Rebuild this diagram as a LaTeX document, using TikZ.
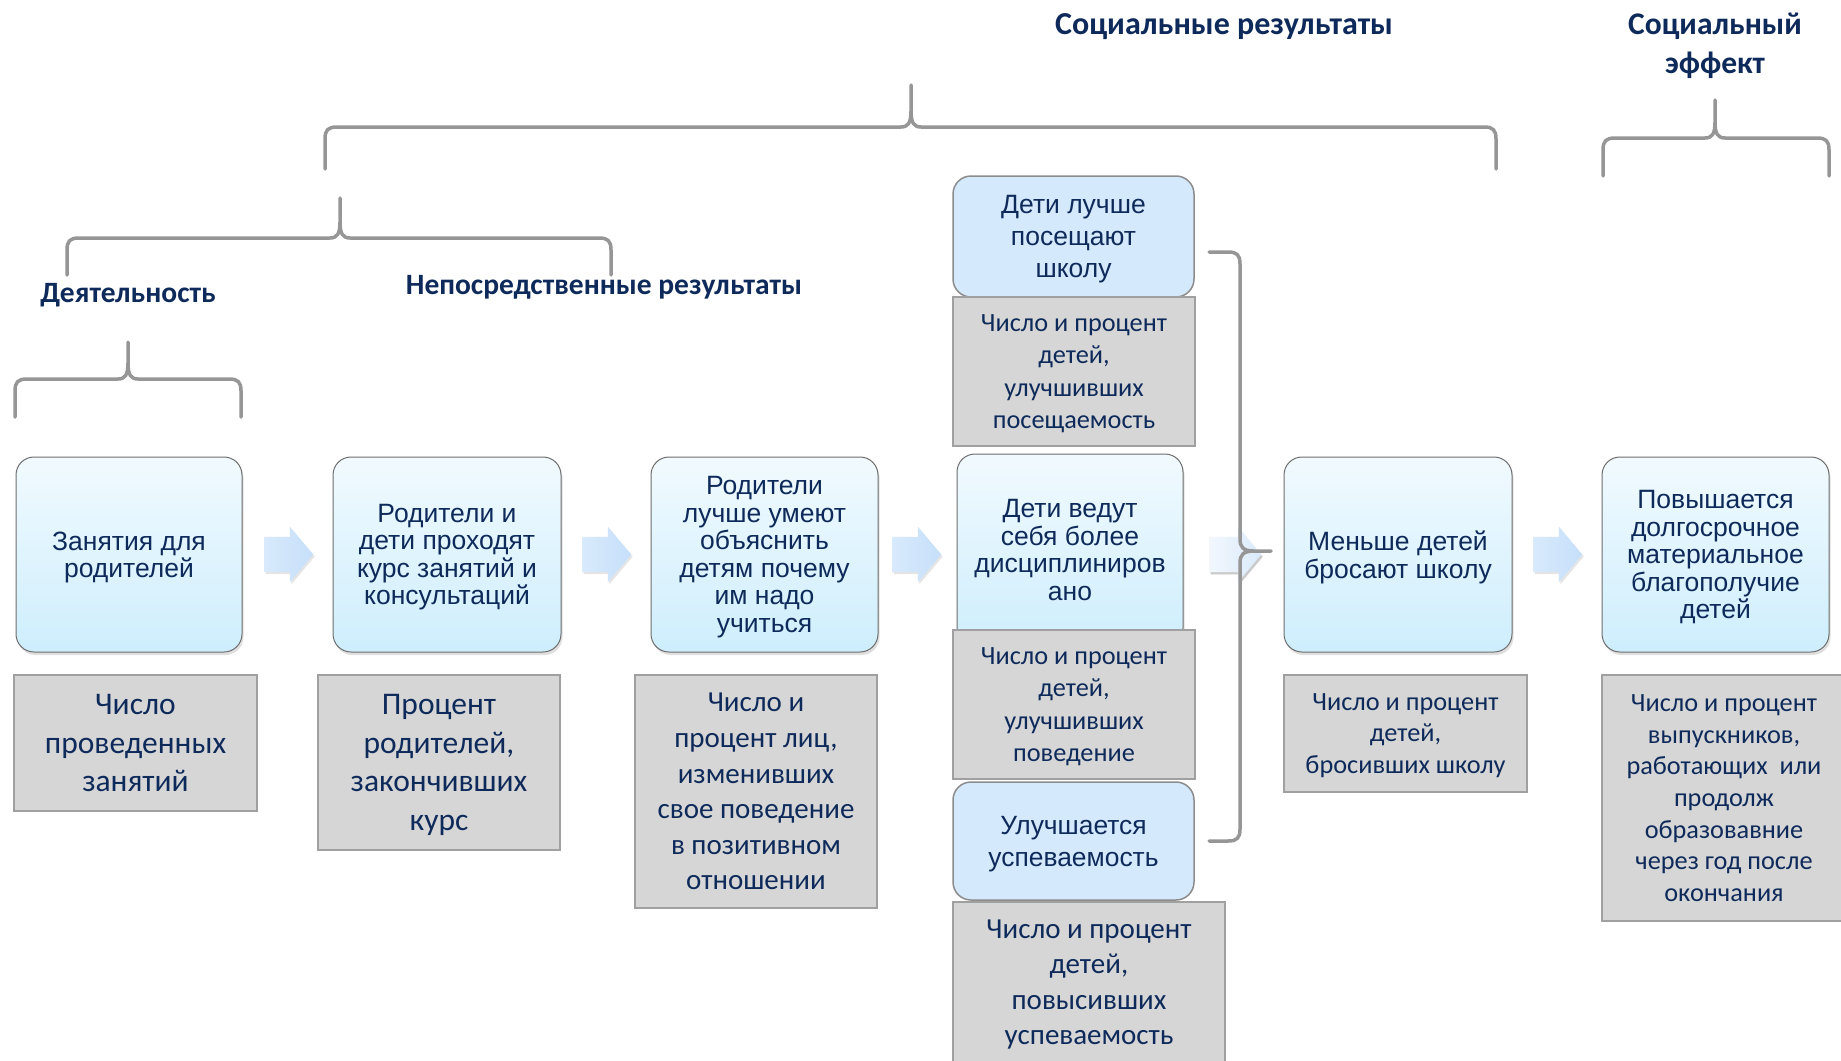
\documentclass[tikz,border=0pt]{standalone}
\usepackage{fontspec}
\setmainfont{Liberation Sans}
\newfontfamily\calfont{Carlito}
\usetikzlibrary{shapes.arrows,shadows}

\definecolor{navy}{RGB}{14,42,90}
\definecolor{boxtop}{RGB}{241,250,254}
\definecolor{boxbot}{RGB}{206,238,253}
\definecolor{boxline}{RGB}{110,110,110}
\definecolor{solidblue}{RGB}{213,233,252}
\definecolor{solidline}{RGB}{140,140,140}
\definecolor{grayfill}{RGB}{214,214,214}
\definecolor{grayline}{RGB}{160,160,160}
\definecolor{braceline}{RGB}{150,150,150}
\definecolor{arrowl}{RGB}{216,234,252}
\definecolor{arrowr}{RGB}{198,223,250}

% horizontal curly brace: left x, right x, tip x, bar y, tip top y, arm bottom y
\newcommand\hbr[6]{%
  \draw[brace] (#1,#6) -- (#1,#4+12) .. controls (#1,#4+3) and (#1+3,#4) .. (#1+12,#4)
    -- (#3-10,#4) .. controls (#3-3,#4) and (#3,#4-4) .. (#3,#4-16) -- (#3,#5)
    (#3,#4-16) .. controls (#3,#4-4) and (#3+3,#4) .. (#3+10,#4)
    -- (#2-12,#4) .. controls (#2-3,#4) and (#2,#4+3) .. (#2,#4+12) -- (#2,#6);}

\begin{document}
\begin{tikzpicture}[x=1pt,y=-1pt,
  every node/.style={inner sep=0pt, align=center, text=navy},
  brace/.style={draw=braceline, line width=3.5pt, line cap=round, line join=round},
  gradbox/.style={draw=boxline, line width=1pt, rounded corners=18pt,
    top color=boxtop, bottom color=boxbot, text depth=0pt,
    drop shadow={shadow xshift=1.5pt, shadow yshift=-3pt, opacity=0.25},
    font=\fontsize{26.5}{27.5}\selectfont},
  solidbox/.style={draw=solidline, line width=1.5pt, rounded corners=18pt,
    fill=solidblue, text depth=0pt},
  graybox/.style={draw=grayline, line width=2pt, fill=grayfill, text depth=0pt},
  gtext/.style n args={2}{font={\calfont\fontsize{#1}{#2}\selectfont}},
  heading/.style={font={\calfont\bfseries\fontsize{#1}{39}\selectfont}},
  flow/.style={single arrow, single arrow head extend=10pt, single arrow tip angle=100,
    text height=17.5pt, text depth=17.5pt, minimum height=49pt, anchor=tail,
    left color=arrowl, right color=arrowr,
    drop shadow={shadow xshift=1.5pt, shadow yshift=-2pt, opacity=0.2}},
  fadeflow/.style={flow, minimum height=52pt,
    left color={rgb,255:red,242;green,247;blue,253},
    right color={rgb,255:red,218;green,234;blue,251},
    drop shadow={shadow xshift=1.5pt, shadow yshift=-2.5pt, opacity=0.25}},
]
\useasboundingbox (0,0) rectangle (1841,1060);
\fill[white] (0,0) rectangle (1841,1060);
\clip (0,0) rectangle (1841,1060);

% headings
\node[heading=32] (hsoc) at (1224,27) {Социальные результаты};
\node[heading=31.5] (heff) at (1715,46) {Социальный\\эффект};
\node[heading=29.5] (hact) at (128,295) {Деятельность};
\node[heading=29.5] (hdir) at (604,287) {Непосредственные результаты};

% braces
\hbr{15}{241}{128}{379}{342}{417}
\hbr{67}{611}{340}{238}{198}{275}
\hbr{325}{1496}{911}{127}{85}{169}
\hbr{1603}{1829}{1715}{138}{100}{176}

% main chain of outcomes
\node[gradbox, minimum width=226pt, minimum height=195pt] (b1) at (129,554.5)
  {Занятия для\\родителей};
\node[gradbox, minimum width=228pt, minimum height=195pt] (b2) at (447,554.5)
  {Родители и\\дети проходят\\курс занятий и\\консультаций};
\node[gradbox, minimum width=227pt, minimum height=195pt] (b3) at (764.5,554.5)
  {Родители\\лучше умеют\\объяснить\\детям почему\\им надо\\учиться};
\node[gradbox, minimum width=226pt, minimum height=192pt] (b4) at (1070,550)
  {Дети ведут\\себя более\\дисциплиниров\\ано};
\node[gradbox, minimum width=228pt, minimum height=195pt] (b5) at (1398,554.5)
  {Меньше детей\\бросают школу};
\node[gradbox, minimum width=227pt, minimum height=195pt] (b6) at (1715.5,554.5)
  {Повышается\\долгосрочное\\материальное\\благополучие\\детей};

\node[solidbox, minimum width=241pt, minimum height=121pt,
  font=\fontsize{26.5}{32}\selectfont] (s1) at (1073.5,236.5)
  {Дети лучше\\посещают\\школу};
\node[solidbox, minimum width=241pt, minimum height=118pt,
  font=\fontsize{26.4}{32}\selectfont] (s2) at (1073.5,841)
  {Улучшается\\успеваемость};

% indicators
\node[graybox, gtext={31.5}{38.5}, minimum width=243pt, minimum height=136pt] (g1) at (135.5,743)
  {Число\\проведенных\\занятий};
\node[graybox, gtext={31.5}{38.5}, minimum width=242pt, minimum height=175pt] (g2) at (439,762.5)
  {Процент\\родителей,\\закончивших\\курс};
\node[graybox, gtext={29}{35.6}, minimum width=242pt, minimum height=233pt] (g3) at (756,791.5)
  {Число и\\процент лиц,\\изменивших\\свое поведение\\в позитивном\\отношении};
\node[graybox, gtext={26.3}{32.3}, minimum width=242pt, minimum height=149pt] (g4a) at (1074,371.5)
  {Число и процент\\детей,\\улучшивших\\посещаемость};
\node[graybox, gtext={26.3}{32.3}, minimum width=242pt, minimum height=149pt] (g4b) at (1074,704.5)
  {Число и процент\\детей,\\улучшивших\\поведение};
\node[graybox, gtext={29}{35.4}, minimum width=272pt, minimum height=160pt] (g4c) at (1089,982)
  {Число и процент\\детей,\\повысивших\\успеваемость};
\node[graybox, gtext={26.3}{31.7}, minimum width=243pt, minimum height=117pt] (g5) at (1405.5,733.5)
  {Число и процент\\детей,\\бросивших школу};
\node[graybox, gtext={26.3}{31.7}, minimum width=244pt, minimum height=246pt] (g6) at (1724,798)
  {Число и процент\\выпускников,\\работающих\ \ или\\продолж\\образовавние\\через год после\\окончания};

% arrows between stages
\node[flow] (a1) at (264,554.5) {};
\node[flow] (a2) at (582,554.5) {};
\node[flow] (a3) at (892,554.5) {};
\node[fadeflow] (a4) at (1209,554.5) {};
\node[flow] (a5) at (1533,554.5) {};

% bracket gathering the three child outcomes
\draw[brace] (1209,252) -- (1228,252) .. controls (1237,252) and (1240,255) .. (1240,264)
  -- (1240,539) .. controls (1240,547) and (1243,551) .. (1254,551) -- (1271,551)
  (1254,551) .. controls (1243,551) and (1240,555) .. (1240,563)
  -- (1240,829) .. controls (1240,838) and (1237,841) .. (1228,841) -- (1209,841);
\end{tikzpicture}
\end{document}
